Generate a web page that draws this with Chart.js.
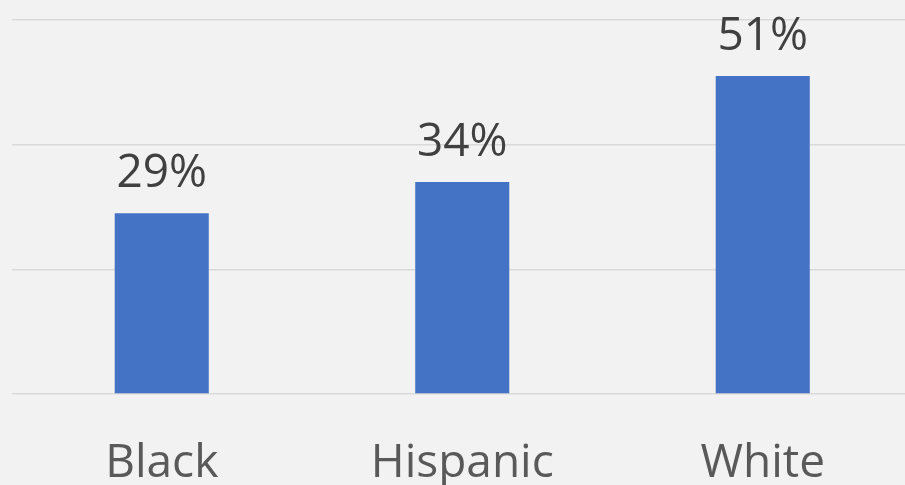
<!DOCTYPE html>
<html>
<head>
<meta charset="utf-8">
<script src="https://cdn.jsdelivr.net/npm/chart.js@4/dist/chart.umd.min.js"></script>
<style>
html,body{margin:0;padding:0;background:#f2f2f2;overflow:hidden;}
#wrap{width:905px;height:485px;overflow:hidden;position:relative;}
#c{position:absolute;left:0;top:0;}
</style>
</head>
<body>
<div id="wrap"><canvas id="c" width="913" height="485"></canvas></div>
<script>
const categories = ["Black", "Hispanic", "White"];
const values = [29, 34, 51];
const yTicks = [0, 20, 40, 60];

const FONT = "'Open Sans', 'Noto Sans', sans-serif";

const valueLabels = {
  id: 'valueLabels',
  afterDatasetsDraw(chart) {
    const ctx = chart.ctx;
    const meta = chart.getDatasetMeta(0);
    ctx.save();
    ctx.fillStyle = '#404040';
    ctx.font = "46px " + FONT;
    ctx.textAlign = 'center';
    ctx.textBaseline = 'alphabetic';
    meta.data.forEach((bar, i) => {
      ctx.fillText(values[i] + '%', bar.x, bar.y - 26);
    });
    ctx.restore();
  }
};

new Chart(document.getElementById('c'), {
  type: 'bar',
  data: {
    labels: categories,
    datasets: [{
      data: values,
      backgroundColor: '#4472C4',
      borderWidth: 0,
      barPercentage: 0.313,
      categoryPercentage: 1.0
    }]
  },
  options: {
    responsive: false,
    animation: false,
    devicePixelRatio: 1,
    layout: { padding: { top: 20, left: 0, right: 0, bottom: 0 } },
    plugins: { legend: { display: false }, tooltip: { enabled: false } },
    scales: {
      x: {
        grid: { display: false },
        border: { display: false },
        ticks: {
          color: '#595959',
          font: { family: FONT, size: 46 },
          padding: 34
        },
        afterFit(s) { s.height = 91; }
      },
      y: {
        min: 0,
        max: 60,
        afterBuildTicks(s) { s.ticks = yTicks.map(v => ({ value: v })); },
        grid: { color: '#d9d9d9', lineWidth: 1.5, drawTicks: false },
        border: { display: false },
        ticks: { display: false },
        afterFit(s) { s.width = 11.5; }
      }
    }
  },
  plugins: [valueLabels]
});
</script>
</body>
</html>
